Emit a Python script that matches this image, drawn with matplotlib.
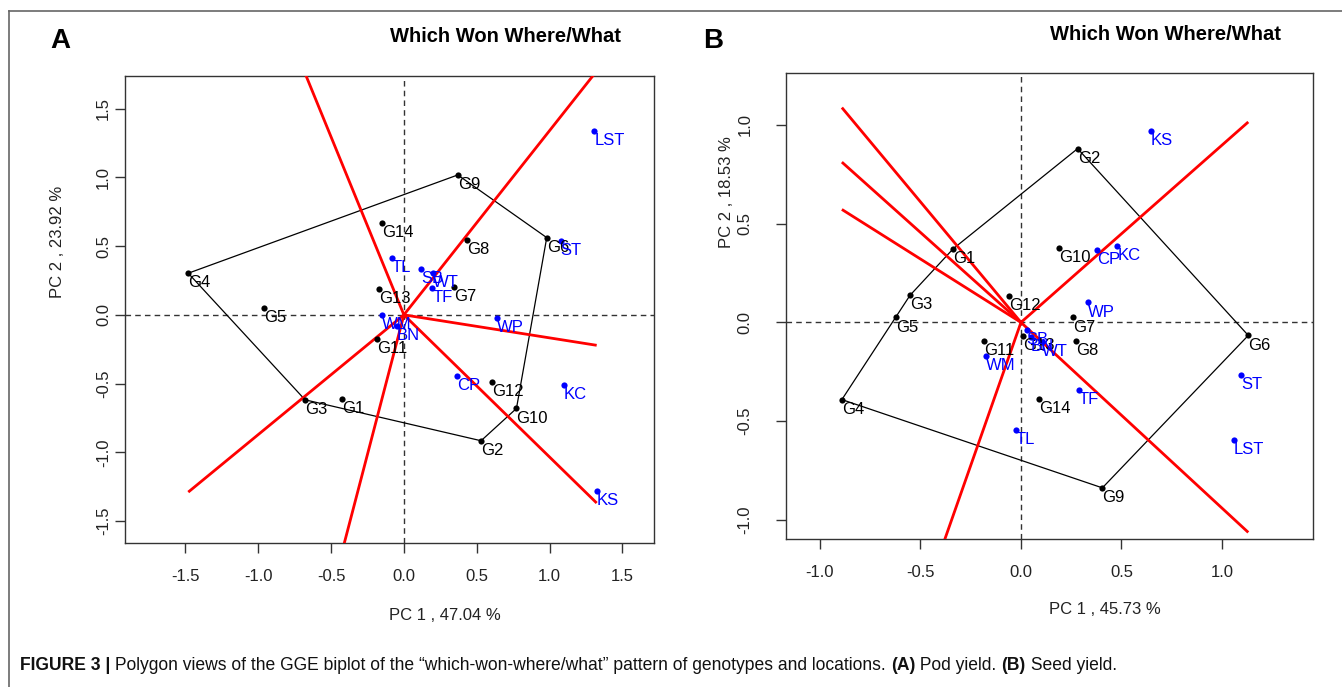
import numpy as np
import matplotlib
matplotlib.use("Agg")
import matplotlib.pyplot as plt
from matplotlib.lines import Line2D

plt.rcParams['font.family'] = ['Liberation Sans', 'DejaVu Sans']
plt.rcParams['axes.unicode_minus'] = False

# ---------------- data: panel A (pod yield) ----------------
gen_names = ["G1", "G2", "G3", "G4", "G5", "G6", "G7", "G8", "G9", "G10", "G11", "G12", "G13", "G14"]
a_gen_x = [-0.427, 0.530, -0.679, -1.481, -0.961, 0.981, 0.346, 0.435, 0.370, 0.773, -0.187, 0.607, -0.173, -0.150]
a_gen_y = [-0.611, -0.916, -0.618, 0.303, 0.053, 0.562, 0.206, 0.545, 1.018, -0.681, -0.177, -0.485, 0.187, 0.667]
a_env_names = ["LST", "ST", "TL", "SB", "WT", "TF", "WP", "WM", "BN", "CP", "KC", "KS"]
a_env_x = [1.308, 1.077, -0.084, 0.117, 0.202, 0.195, 0.637, -0.152, -0.049, 0.363, 1.100, 1.324]
a_env_y = [1.340, 0.538, 0.412, 0.337, 0.303, 0.199, -0.020, 0.000, -0.080, -0.444, -0.509, -1.278]
a_polygon = ["G9", "G6", "G10", "G2", "G3", "G4"]
a_xlabel = "PC 1 , 47.04 %"
a_ylabel = "PC 2 , 23.92 %"
a_ticks = [-1.5, -1.0, -0.5, 0.0, 0.5, 1.0, 1.5]

# ---------------- data: panel B (seed yield) ----------------
b_gen_x = [-0.337, 0.282, -0.552, -0.891, -0.622, 1.131, 0.260, 0.272, 0.405, 0.189, -0.183, -0.061, 0.011, 0.090]
b_gen_y = [0.373, 0.880, 0.137, -0.391, 0.025, -0.066, 0.025, -0.096, -0.838, 0.377, -0.096, 0.132, -0.071, -0.388]
b_env_names = ["KS", "CP", "KC", "WP", "SB", "BN", "WT", "WM", "TF", "TL", "ST", "LST"]
b_env_x = [0.645, 0.377, 0.479, 0.335, 0.028, 0.048, 0.104, -0.176, 0.289, -0.025, 1.095, 1.060]
b_env_y = [0.971, 0.368, 0.388, 0.101, -0.037, -0.074, -0.098, -0.172, -0.341, -0.543, -0.265, -0.594]
b_polygon = ["G2", "G6", "G9", "G4", "G3", "G1"]
b_xlabel = "PC 1 , 45.73 %"
b_ylabel = "PC 2 , 18.53 %"
b_ticks = [-1.0, -0.5, 0.0, 0.5, 1.0]

title = "Which Won Where/What"
caption_parts = [("FIGURE 3 | ", "bold"),
                 ("Polygon views of the GGE biplot of the \u201cwhich-won-where/what\u201d pattern of genotypes and locations. ", "normal"),
                 ("(A)", "bold"), (" Pod yield. ", "normal"), ("(B)", "bold"), (" Seed yield.", "normal")]

W, H = 1342, 687
fig = plt.figure(figsize=(W / 100, H / 100), dpi=100)
fig.patch.set_facecolor("white")
TXT = "#222222"


def px_axes(left, right, top, bottom):
    return fig.add_axes([left / W, 1 - bottom / H, (right - left) / W, (bottom - top) / H])


def draw_panel(ax, gx, gy, ex, ey, enames, poly, xlim, ylim, ticks, ypad):
    gx = np.asarray(gx); gy = np.asarray(gy)
    ex = np.asarray(ex); ey = np.asarray(ey)
    ax.set_xlim(*xlim)
    ax.set_ylim(*ylim)
    ax.axhline(0, color="#333333", lw=1.0, ls=(0, (4, 3)), zorder=1)
    ax.axvline(0, color="#333333", lw=1.0, ls=(0, (4, 3)), zorder=1)
    # polygon
    idx = [gen_names.index(n) for n in poly] + [gen_names.index(poly[0])]
    ax.plot(gx[idx], gy[idx], color="black", lw=0.9, zorder=2)
    # rays perpendicular to polygon sides
    allx = np.concatenate([gx, ex])
    xmin, xmax = allx.min(), allx.max()
    for i in range(len(poly)):
        p1 = np.array([gx[idx[i]], gy[idx[i]]])
        p2 = np.array([gx[idx[i + 1]], gy[idx[i + 1]]])
        d = p2 - p1
        n = np.array([-d[1], d[0]])
        if np.dot(n, p1) < 0:
            n = -n
        xend = xmax if n[0] > 0 else xmin
        t = xend / n[0]
        ax.plot([0, n[0] * t], [0, n[1] * t], color="red", lw=2.0, zorder=3,
                solid_capstyle="butt")
    # points
    ax.scatter(gx, gy, s=20, color="black", zorder=4, linewidths=0)
    ax.scatter(ex, ey, s=20, color="#0000ff", zorder=4, linewidths=0)
    for n_, x, y in zip(gen_names, gx, gy):
        ax.annotate(n_, (x, y), xytext=(0, -1.5), textcoords="offset points",
                    ha="left", va="top", fontsize=12, color="black", zorder=5)
    for n_, x, y in zip(enames, ex, ey):
        ax.annotate(n_, (x, y), xytext=(0, -1.5), textcoords="offset points",
                    ha="left", va="top", fontsize=12, color="#0000ff", zorder=5)
    ax.set_xticks(ticks)
    ax.set_yticks(ticks)
    ax.set_xticklabels([f"{t:.1f}" for t in ticks], fontsize=12, color=TXT)
    ax.set_yticklabels([f"{t:.1f}" for t in ticks], fontsize=12, color=TXT,
                       rotation=90, va="center")
    ax.tick_params(axis="x", length=7, width=1, pad=12, color="#333333")
    ax.tick_params(axis="y", length=7, width=1, pad=ypad, color="#333333")
    for s in ax.spines.values():
        s.set_linewidth(1.0)
        s.set_color("#333333")


axA = px_axes(125, 654, 76, 543)
draw_panel(axA, a_gen_x, a_gen_y, a_env_x, a_env_y, a_env_names, a_polygon,
           (-1.9155, 1.7177), (-1.660, 1.738), a_ticks, 3)
axB = px_axes(786, 1313, 73, 539)
draw_panel(axB, b_gen_x, b_gen_y, b_env_x, b_env_y, b_env_names, b_polygon,
           (-1.169, 1.453), (-1.097, 1.263), b_ticks, 17)

# axis titles (placed as in the reference)
fig.text(445 / W, 1 - 615 / H, a_xlabel, ha="center", va="center", fontsize=12, color=TXT)
fig.text(1105 / W, 1 - 609 / H, b_xlabel, ha="center", va="center", fontsize=12, color=TXT)
fig.text(58 / W, 1 - 242 / H, a_ylabel, ha="center", va="center", fontsize=12, color=TXT, rotation=90)
fig.text(726 / W, 1 - 192 / H, b_ylabel, ha="center", va="center", fontsize=12, color=TXT, rotation=90)

# titles and panel letters
fig.text(505 / W, 1 - 36 / H, title, ha="center", va="center", fontsize=14.5, fontweight="bold")
fig.text(1165 / W, 1 - 35 / H, title, ha="center", va="center", fontsize=14.5, fontweight="bold")
fig.text(50 / W, 1 - 41 / H, "A", ha="left", va="center", fontsize=20, fontweight="bold")
fig.text(703 / W, 1 - 41 / H, "B", ha="left", va="center", fontsize=20, fontweight="bold")

# frame lines
fig.add_artist(Line2D([9 / W, 1], [1 - 11 / H, 1 - 11 / H], color="#666666", lw=1.2))
fig.add_artist(Line2D([9 / W, 9 / W], [0, 1 - 11 / H], color="#666666", lw=1.2))

# caption with mixed weights
renderer = fig.canvas.get_renderer()
target_width = 1102.0
size = 12.0
def place_caption(size, draw):
    x = 20.0
    texts = []
    for txt, wt in caption_parts:
        t = fig.text(x / W, 1 - 665 / H, txt, ha="left", va="center", fontsize=size,
                     fontweight=wt, color="#111111")
        bb = t.get_window_extent(renderer=renderer)
        x += bb.width
        texts.append(t)
    if not draw:
        for t in texts:
            t.remove()
    return x - 20.0
w0 = place_caption(size, False)
place_caption(size * target_width / w0, True)

fig.savefig("out.png", dpi=100, facecolor="white")
